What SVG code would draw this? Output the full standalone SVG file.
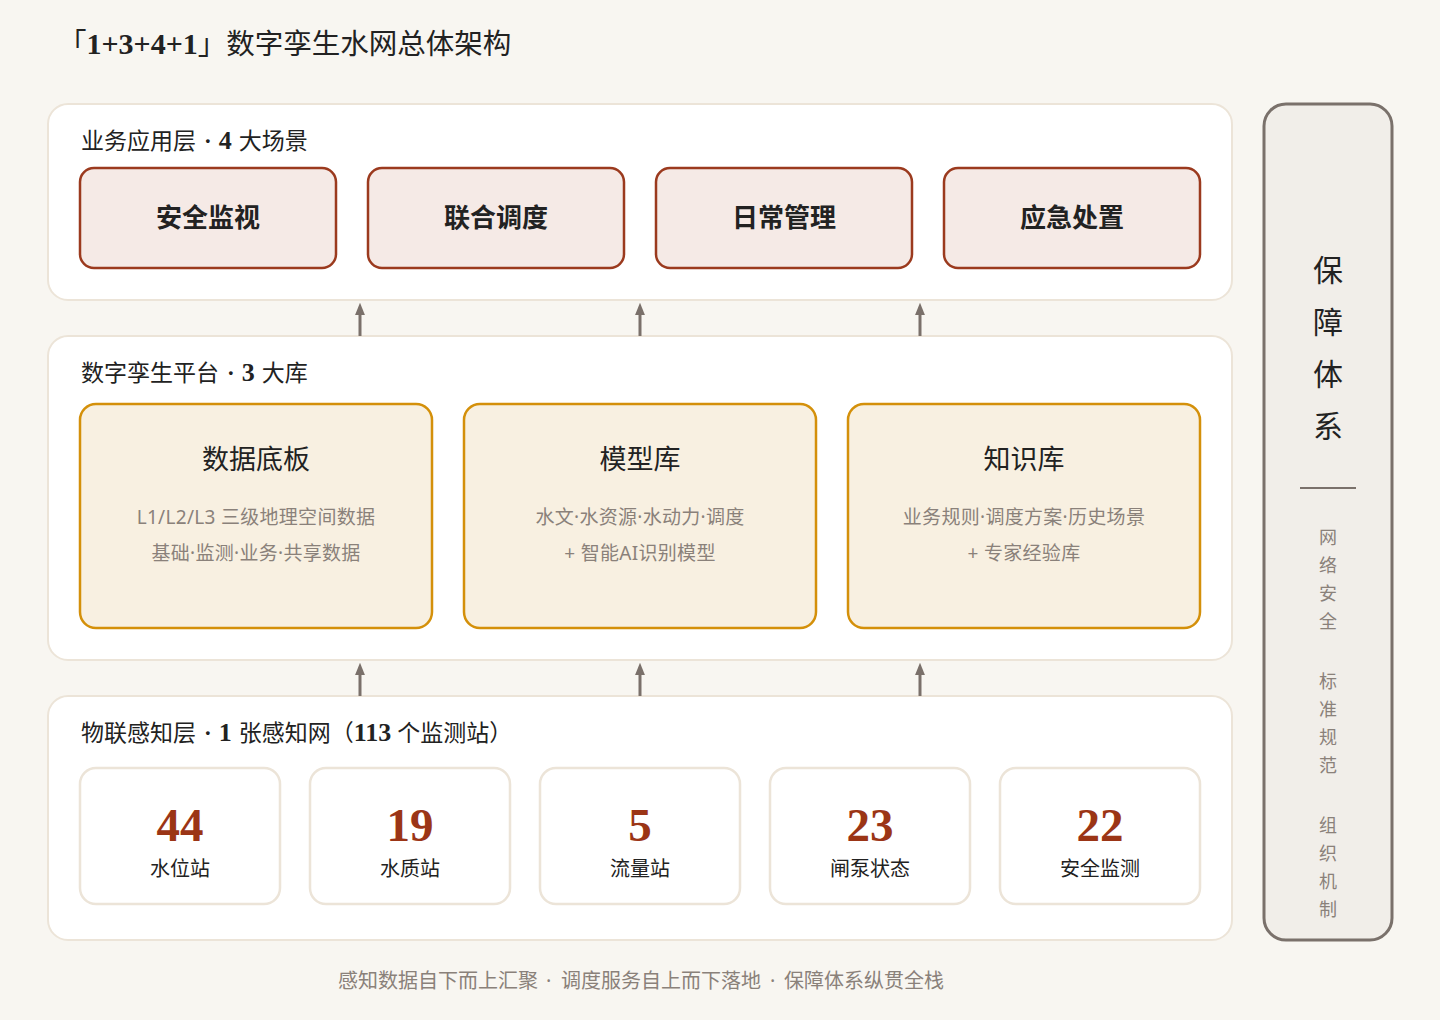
<svg xmlns="http://www.w3.org/2000/svg" width="1440" height="1020" viewBox="0 0 1440 1020">
<defs>
<style>
.serif{font-family:"Liberation Serif","Noto Sans CJK SC",serif;}
.sans{font-family:"Noto Sans","Noto Sans CJK SC",sans-serif;}
.cjk{font-family:"Noto Sans CJK SC",sans-serif;}
.panel{fill:#FFFFFF;stroke:#ECE4D8;stroke-width:2;}
.app{fill:#F5EAE6;stroke:#9B3A1E;stroke-width:2.5;}
.lib{fill:#F8F0E1;stroke:#D4900A;stroke-width:2.5;}
.stat{fill:#FFFFFF;stroke:#ECE4D8;stroke-width:2.5;}
.layer{font-size:23px;fill:#222;}
.apptxt{font-size:26px;font-weight:700;fill:#222;text-anchor:middle;}
.libt{font-size:27px;fill:#222;text-anchor:middle;}
.libs{font-size:19px;fill:#8A817A;text-anchor:middle;letter-spacing:0.3px;}
.num{font-size:47px;font-weight:700;fill:#9B3516;text-anchor:middle;}
.nlab{font-size:20px;fill:#222;text-anchor:middle;}
.conn{stroke:#7A706A;stroke-width:3;fill:none;}
.vsmall{font-size:18px;fill:#8A817A;text-anchor:middle;}
.vbig{font-size:30px;fill:#222;text-anchor:middle;}
.foot{font-size:20px;fill:#8A817A;}
</style>
<marker id="ah" viewBox="0 0 10 10" refX="5" refY="5" markerWidth="4.2" markerHeight="4.2" orient="auto">
<path d="M0,1 L10,5 L0,9 Z" fill="#7A706A"/>
</marker>
</defs>
<rect x="0" y="0" width="1440" height="1020" fill="#F8F6F1"/>
<text class="serif" x="58" y="54" font-size="28.5" fill="#222"><tspan>「</tspan><tspan font-weight="700" font-size="30">1+3+4+1</tspan><tspan>」数字孪生水网总体架构</tspan></text>

<g id="layer-app">
<rect class="panel" x="48" y="104" width="1184" height="196" rx="20"/>
<text class="serif layer" x="81" y="149">业务应用层<tspan dx="8" font-weight="700">·</tspan><tspan dx="7" font-weight="700" font-size="26">4</tspan><tspan dx="7">大场景</tspan></text>
</g>
<g id="app-1"><rect class="app" x="80" y="168" width="256" height="100" rx="14"/><text class="cjk apptxt" x="208" y="227">安全监视</text></g>
<g id="app-2"><rect class="app" x="368" y="168" width="256" height="100" rx="14"/><text class="cjk apptxt" x="496" y="227">联合调度</text></g>
<g id="app-3"><rect class="app" x="656" y="168" width="256" height="100" rx="14"/><text class="cjk apptxt" x="784" y="227">日常管理</text></g>
<g id="app-4"><rect class="app" x="944" y="168" width="256" height="100" rx="14"/><text class="cjk apptxt" x="1072" y="227">应急处置</text></g>

<g id="layer-platform">
<rect class="panel" x="48" y="336" width="1184" height="324" rx="20"/>
<text class="serif layer" x="81" y="381">数字孪生平台<tspan dx="8" font-weight="700">·</tspan><tspan dx="7" font-weight="700" font-size="26">3</tspan><tspan dx="7">大库</tspan></text>
</g>
<g id="lib-1"><rect class="lib" x="80" y="404" width="352" height="224" rx="16"/>
<text class="serif libt" x="256" y="469">数据底板</text>
<text class="sans libs" x="256" y="524">L1/L2/L3 三级地理空间数据</text>
<text class="sans libs" x="256" y="560">基础·监测·业务·共享数据</text></g>
<g id="lib-2"><rect class="lib" x="464" y="404" width="352" height="224" rx="16"/>
<text class="serif libt" x="640" y="469">模型库</text>
<text class="sans libs" x="640" y="524">水文·水资源·水动力·调度</text>
<text class="sans libs" x="640" y="560">+ 智能AI识别模型</text></g>
<g id="lib-3"><rect class="lib" x="848" y="404" width="352" height="224" rx="16"/>
<text class="serif libt" x="1024" y="469">知识库</text>
<text class="sans libs" x="1024" y="524">业务规则·调度方案·历史场景</text>
<text class="sans libs" x="1024" y="560">+ 专家经验库</text></g>

<g id="layer-iot">
<rect class="panel" x="48" y="696" width="1184" height="244" rx="20"/>
<text class="serif layer" x="81" y="741">物联感知层<tspan dx="8" font-weight="700">·</tspan><tspan dx="7" font-weight="700" font-size="26">1</tspan><tspan dx="7">张感知网（</tspan><tspan font-weight="700" font-size="26">113</tspan><tspan dx="6">个监测站）</tspan></text>
</g>
<g id="stat-1"><rect class="stat" x="80" y="768" width="200" height="136" rx="16"/><text class="serif num" x="180" y="841">44</text><text class="cjk nlab" x="180" y="876">水位站</text></g>
<g id="stat-2"><rect class="stat" x="310" y="768" width="200" height="136" rx="16"/><text class="serif num" x="410" y="841">19</text><text class="cjk nlab" x="410" y="876">水质站</text></g>
<g id="stat-3"><rect class="stat" x="540" y="768" width="200" height="136" rx="16"/><text class="serif num" x="640" y="841">5</text><text class="cjk nlab" x="640" y="876">流量站</text></g>
<g id="stat-4"><rect class="stat" x="770" y="768" width="200" height="136" rx="16"/><text class="serif num" x="870" y="841">23</text><text class="cjk nlab" x="870" y="876">闸泵状态</text></g>
<g id="stat-5"><rect class="stat" x="1000" y="768" width="200" height="136" rx="16"/><text class="serif num" x="1100" y="841">22</text><text class="cjk nlab" x="1100" y="876">安全监测</text></g>

<g id="connectors">
<line class="conn" x1="360" y1="336" x2="360" y2="309" marker-end="url(#ah)"/>
<line class="conn" x1="640" y1="336" x2="640" y2="309" marker-end="url(#ah)"/>
<line class="conn" x1="920" y1="336" x2="920" y2="309" marker-end="url(#ah)"/>
<line class="conn" x1="360" y1="696" x2="360" y2="669" marker-end="url(#ah)"/>
<line class="conn" x1="640" y1="696" x2="640" y2="669" marker-end="url(#ah)"/>
<line class="conn" x1="920" y1="696" x2="920" y2="669" marker-end="url(#ah)"/>
</g>

<g id="guarantee">
<rect x="1264" y="104" width="128" height="836" rx="22" fill="#F1EEE9" stroke="#7A716B" stroke-width="3"/>
<text class="serif vbig" x="1328" y="281">保</text>
<text class="serif vbig" x="1328" y="333">障</text>
<text class="serif vbig" x="1328" y="385">体</text>
<text class="serif vbig" x="1328" y="437">系</text>
<line x1="1300" y1="488" x2="1356" y2="488" stroke="#7A716B" stroke-width="2"/>
<text class="cjk vsmall" x="1328" y="544">网</text>
<text class="cjk vsmall" x="1328" y="572">络</text>
<text class="cjk vsmall" x="1328" y="600">安</text>
<text class="cjk vsmall" x="1328" y="628">全</text>
<text class="cjk vsmall" x="1328" y="688">标</text>
<text class="cjk vsmall" x="1328" y="716">准</text>
<text class="cjk vsmall" x="1328" y="744">规</text>
<text class="cjk vsmall" x="1328" y="772">范</text>
<text class="cjk vsmall" x="1328" y="832">组</text>
<text class="cjk vsmall" x="1328" y="860">织</text>
<text class="cjk vsmall" x="1328" y="888">机</text>
<text class="cjk vsmall" x="1328" y="916">制</text>
</g>

<text class="sans foot" x="338" y="988">感知数据自下而上汇聚<tspan x="546">·</tspan><tspan x="561">调度服务自上而下落地</tspan><tspan x="770">·</tspan><tspan x="784">保障体系纵贯全栈</tspan></text>
</svg>
